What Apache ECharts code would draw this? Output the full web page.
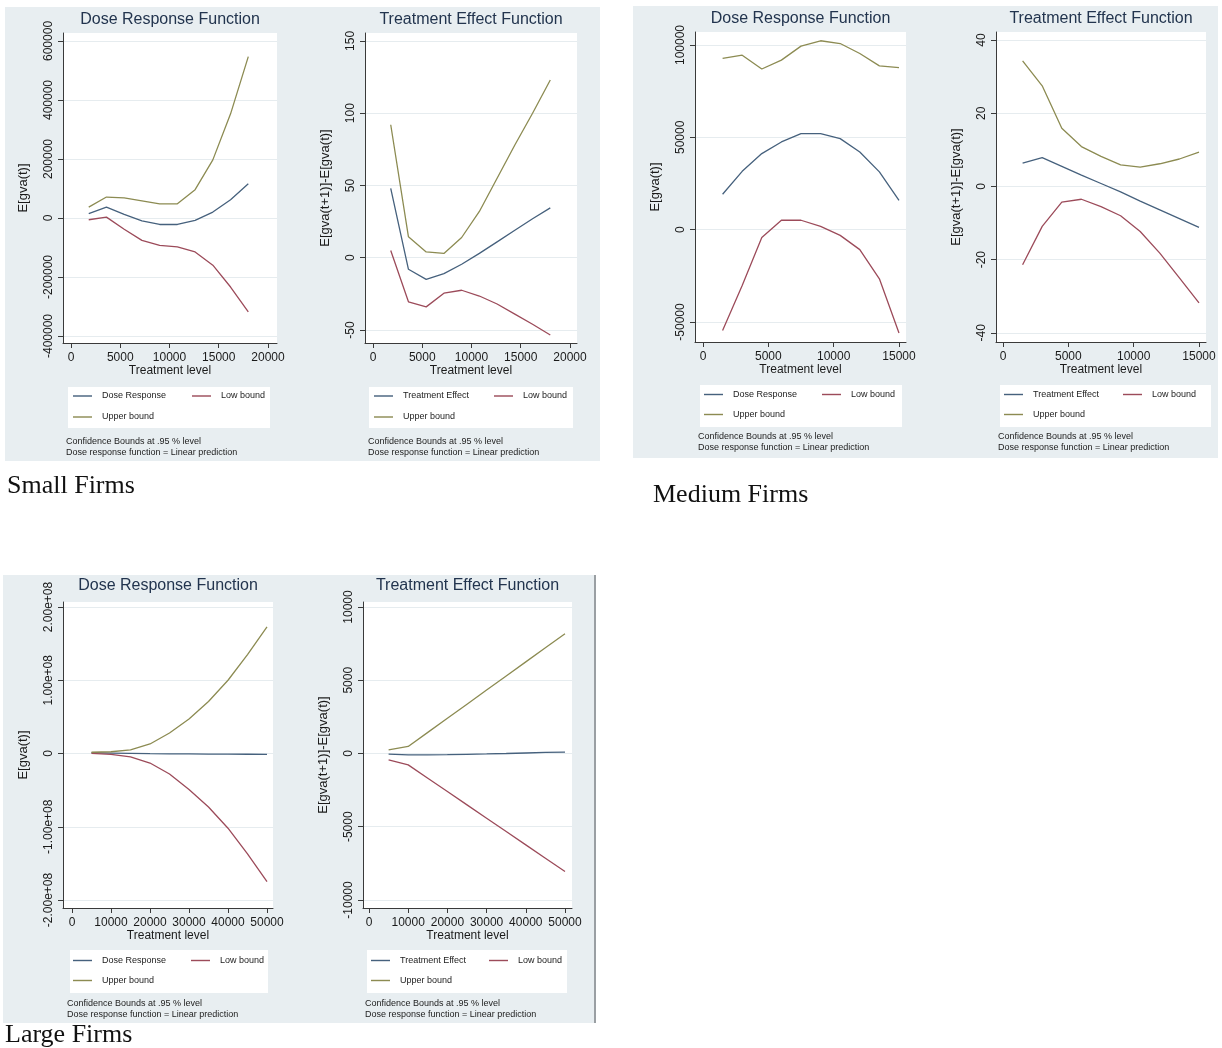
<!DOCTYPE html>
<html><head><meta charset="utf-8">
<script src="https://cdn.jsdelivr.net/npm/echarts@6/dist/echarts.min.js"></script>
<style>html,body{margin:0;padding:0;background:#fff}#c{width:1222px;height:1048px}</style>
</head><body><div id="c"></div>
<script>
// ---------- DATA ----------
const smallX = [1800, 3600, 5400, 7200, 9000, 10800, 12600, 14400, 16200, 18000];
const smallDR = [15000, 37000, 12000, -10000, -22000, -22000, -8000, 20000, 62000, 116000];
const smallDRLow = [-6000, 3000, -38000, -76000, -93000, -98000, -115000, -160000, -234000, -318000];
const smallDRUp = [37000, 71000, 68000, 58000, 48000, 48000, 96000, 197000, 353000, 547000];
const smallTE = [48, -8, -15, -11, -4.5, 3, 11, 19, 27, 34.5];
const smallTELow = [5, -30.5, -34, -24.5, -22.5, -26.5, -32, -39, -46, -53.5];
const smallTEUp = [92, 14.5, 4, 3, 14, 32, 55, 78, 100, 123];

const mediumX = [1500, 3000, 4500, 6000, 7500, 9000, 10500, 12000, 13500, 15000];
const mediumDR = [19200, 31600, 41200, 47500, 52000, 52000, 49300, 42100, 31300, 15900];
const mediumDRLow = [-54600, -30200, -4300, 5100, 5100, 1800, -3100, -10800, -26600, -56000];
const mediumDRUp = [92700, 94500, 87000, 91800, 99400, 102300, 100800, 95400, 88700, 87800];
const mediumTE = [6.4, 7.9, 5.5, 3.1, 0.8, -1.5, -4.0, -6.4, -8.8, -11.2];
const mediumTELow = [-21.4, -10.9, -4.3, -3.5, -5.5, -8, -12.3, -18.2, -25, -31.8];
const mediumTEUp = [34.3, 27.5, 15.9, 10.9, 8.2, 5.9, 5.3, 6.2, 7.5, 9.4];

const largeX = [5000, 10000, 15000, 20000, 25000, 30000, 35000, 40000, 45000, 50000];
const largeDR = [1.0e6, 0.6e6, 0.2e6, -0.2e6, -0.4e6, -0.6e6, -0.8e6, -0.9e6, -1.0e6, -1.1e6];
const largeDRLow = [0.3e6, -1.2e6, -4.5e6, -13e6, -28e6, -49e6, -73e6, -102e6, -137e6, -175e6];
const largeDRUp = [1.7e6, 2.4e6, 5e6, 13e6, 28e6, 47e6, 71e6, 100e6, 135e6, 173e6];
const largeTE = [-45, -100, -95, -80, -55, -30, 0, 35, 70, 100];
const largeTELow = [-430, -775, -1686, -2596, -3507, -4418, -5328, -6239, -7150, -8060];
const largeTEUp = [250, 480, 1443, 2405, 3368, 4330, 5293, 6255, 7218, 8180];

const smallXTicks = [0, 5000, 10000, 15000, 20000];
const mediumXTicks = [0, 5000, 10000, 15000];
const largeXTicks = [0, 10000, 20000, 30000, 40000, 50000];
const smallDRTicks = [-400000, -200000, 0, 200000, 400000, 600000];
const smallTETicks = [-50, 0, 50, 100, 150];
const mediumDRTicks = [-50000, 0, 50000, 100000];
const mediumTETicks = [-40, -20, 0, 20, 40];
const largeDRTicks = [-2e8, -1e8, 0, 1e8, 2e8];
const largeTETicks = [-10000, -5000, 0, 5000, 10000];

const panelLabels = ['Small Firms', 'Medium Firms', 'Large Firms'];
const noteLines = 'Confidence Bounds at .95 % level\nDose response function = Linear prediction';

// ---------- STYLE / LAYOUT ----------
const FONT = '"Liberation Sans", Arial, Helvetica, sans-serif';
const C_MEAN = '#46617d', C_LOW = '#9c4b5a', C_UP = '#8c8b52';
const TXT = '#1a1a1a';
const LINE_ICON = 'path://M0,0L40,0L40,3L0,3Z';

function sci(v) {
  if (v === 0) return '0';
  const s = v.toExponential(2);
  const m = s.split('e');
  let e = parseInt(m[1], 10);
  const sign = e < 0 ? '-' : '+';
  e = Math.abs(e);
  return m[0] + 'e' + sign + (e < 10 ? '0' + e : '' + e);
}
const plain = v => String(v);

const plots = [
  {title: 'Dose Response Function', meanName: 'Dose Response', yName: 'E[gva(t)]',
   x: smallX, mean: smallDR, low: smallDRLow, up: smallDRUp, xt: smallXTicks, yt: smallDRTicks, fmt: plain,
   box: [63, 33, 277, 343], xr: [-812, 20914], yr: [-423700, 627000], titleY: 21,
   legX: 73, legLowX: 192, legY: [397.5, 418.5], legBox: [68, 387, 270, 428], noteX: 66, noteY: 442},
  {title: 'Treatment Effect Function', meanName: 'Treatment Effect', yName: 'E[gva(t+1)]-E[gva(t)]',
   x: smallX, mean: smallTE, low: smallTELow, up: smallTEUp, xt: smallXTicks, yt: smallTETicks, fmt: plain,
   box: [365, 33, 577, 343], xr: [-812, 20711], yr: [-59, 155.5], titleY: 21,
   legX: 374, legLowX: 494, legY: [397.5, 418.5], legBox: [369, 387, 573, 428], noteX: 368, noteY: 442},
  {title: 'Dose Response Function', meanName: 'Dose Response', yName: 'E[gva(t)]',
   x: mediumX, mean: mediumDR, low: mediumDRLow, up: mediumDRUp, xt: mediumXTicks, yt: mediumDRTicks, fmt: plain,
   box: [695, 32, 906, 342], xr: [-612, 15536], yr: [-60830, 107040], titleY: 20,
   legX: 704, legLowX: 822, legY: [396, 416], legBox: [700, 385, 902, 427], noteX: 698, noteY: 437},
  {title: 'Treatment Effect Function', meanName: 'Treatment Effect', yName: 'E[gva(t+1)]-E[gva(t)]',
   x: mediumX, mean: mediumTE, low: mediumTELow, up: mediumTEUp, xt: mediumXTicks, yt: mediumTETicks, fmt: plain,
   box: [996, 32, 1206, 342], xr: [-536, 15536], yr: [-42.5, 42.2], titleY: 20,
   legX: 1004, legLowX: 1123, legY: [396, 416], legBox: [1000, 385, 1211, 427], noteX: 998, noteY: 437},
  {title: 'Dose Response Function', meanName: 'Dose Response', yName: 'E[gva(t)]',
   x: largeX, mean: largeDR, low: largeDRLow, up: largeDRUp, xt: largeXTicks, yt: largeDRTicks, fmt: sci,
   box: [63, 602, 273, 908], xr: [-2308, 51540], yr: [-210.9e6, 206.8e6], titleY: 587,
   legX: 73, legLowX: 191, legY: [962, 982], legBox: [70, 950, 268, 993], noteX: 67, noteY: 1004},
  {title: 'Treatment Effect Function', meanName: 'Treatment Effect', yName: 'E[gva(t+1)]-E[gva(t)]',
   x: largeX, mean: largeTE, low: largeTELow, up: largeTEUp, xt: largeXTicks, yt: largeTETicks, fmt: plain,
   box: [363, 602, 572, 908], xr: [-1531, 51786], yr: [-10546, 10341], titleY: 587,
   legX: 371, legLowX: 489, legY: [962, 982], legBox: [367, 950, 567, 993], noteX: 365, noteY: 1004}
];

const zip = (xs, ys) => xs.map((v, i) => [v, ys[i]]);

const grid = [], xAxis = [], yAxis = [], series = [], legend = [], title = [];
const elements = [];

// panel backgrounds
const panels = [[5, 7, 595, 454], [633, 6, 585, 452], [3, 575, 592, 448]];
panels.forEach(r => elements.push({type: 'rect', z: -10, shape: {x: r[0], y: r[1], width: r[2], height: r[3]}, style: {fill: '#e8eef1'}}));
elements.push({type: 'line', z: -9, shape: {x1: 595, y1: 575, x2: 595, y2: 1023}, style: {stroke: '#9a9fa3', lineWidth: 2}});

const labelPos = [[7, 486], [653, 495], [5, 1035]];
panelLabels.forEach((t, i) => elements.push({type: 'text', x: labelPos[i][0], y: labelPos[i][1],
  style: {text: t, font: '26px "Liberation Serif", "Times New Roman", serif', fill: '#111', verticalAlign: 'middle'}}));

const LEG_H = 12;
function legendItem(name, left, cy) {
  return {show: true, orient: 'horizontal', left: left, top: cy - LEG_H / 2, padding: 0,
    icon: LINE_ICON, itemWidth: 19, itemHeight: LEG_H, selectedMode: false,
    textStyle: {fontFamily: FONT, fontSize: 9, color: '#222', padding: [0, 0, 0, 5]},
    data: [name]};
}

plots.forEach((p, i) => {
  const w = p.box[2] - p.box[0], h = p.box[3] - p.box[1];
  grid.push({left: p.box[0], top: p.box[1], width: w, height: h, show: true, backgroundColor: '#ffffff', borderWidth: 0, outerBoundsMode: 'none'});
  title.push({text: p.title, left: p.box[0] + w / 2, top: p.titleY - 9, textAlign: 'center', padding: 0,
    textStyle: {fontFamily: FONT, fontSize: 16, fontWeight: 'normal', color: '#22344e'}});
  xAxis.push({type: 'value', gridIndex: i, min: p.xr[0], max: p.xr[1],
    name: 'Treatment level', nameLocation: 'middle', nameGap: 21,
    nameTextStyle: {fontFamily: FONT, fontSize: 12, color: TXT},
    axisLine: {show: true, onZero: false, lineStyle: {color: '#3a3a3a', width: 1}},
    axisTick: {show: true, customValues: p.xt, length: 5, lineStyle: {color: '#3a3a3a'}},
    axisLabel: {customValues: p.xt, margin: 9, fontFamily: FONT, fontSize: 12, color: TXT, formatter: plain},
    splitLine: {show: false}});
  yAxis.push({type: 'value', gridIndex: i, min: p.yr[0], max: p.yr[1],
    name: p.yName, nameLocation: 'middle', nameGap: 33, nameRotate: 90,
    nameTextStyle: {fontFamily: FONT, fontSize: 13, color: TXT},
    axisLine: {show: true, onZero: false, lineStyle: {color: '#3a3a3a', width: 1}},
    axisTick: {show: true, customValues: p.yt, length: 5, lineStyle: {color: '#3a3a3a'}},
    axisLabel: {customValues: p.yt, rotate: 90, margin: 8, fontFamily: FONT, fontSize: 12, color: TXT, formatter: p.fmt},
    splitLine: {show: true, lineStyle: {color: '#e6ecef', width: 1}}});
  const mk = (name, data, color) => ({type: 'line', name, xAxisIndex: i, yAxisIndex: i, data: zip(p.x, data),
    symbol: 'none', smooth: false, silent: true, lineStyle: {color, width: 1.3}, itemStyle: {color}});
  series.push(mk(p.meanName, p.mean, C_MEAN), mk('Low bound', p.low, C_LOW), mk('Upper bound', p.up, C_UP));
  legend.push(legendItem(p.meanName, p.legX, p.legY[0]),
              legendItem('Low bound', p.legLowX, p.legY[0]),
              legendItem('Upper bound', p.legX, p.legY[1]));
  elements.push({type: 'rect', z: -5, shape: {x: p.legBox[0], y: p.legBox[1], width: p.legBox[2] - p.legBox[0], height: p.legBox[3] - p.legBox[1]}, style: {fill: '#ffffff'}});
  elements.push({type: 'text', x: p.noteX, y: p.noteY - 5.5,
    style: {text: noteLines, font: '9px ' + FONT, fill: '#222', lineHeight: 10.5, verticalAlign: 'top'}});
});

const chart = echarts.init(document.getElementById('c'), null, {renderer: 'canvas'});
chart.setOption({
  animation: false,
  backgroundColor: '#ffffff',
  title, grid, xAxis, yAxis, series, legend,
  graphic: {elements}
});
</script>
</body></html>
